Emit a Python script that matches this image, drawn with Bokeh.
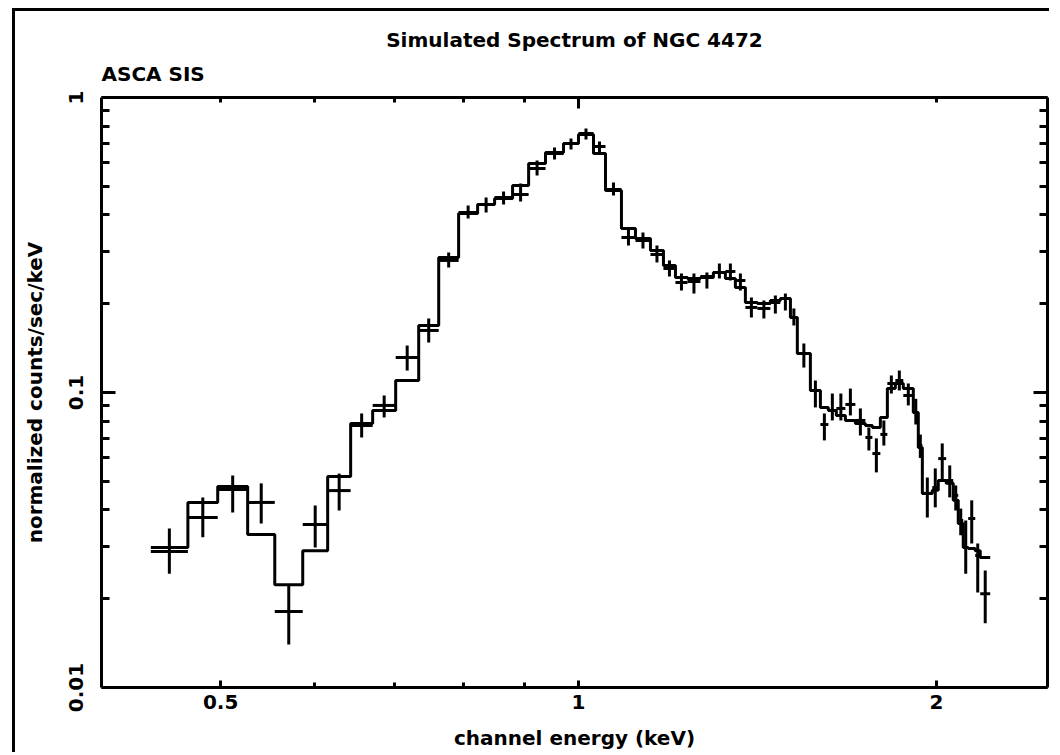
import numpy as np
from bokeh.plotting import figure
from bokeh.models import Range1d, LogAxis, FixedTicker, Title
from bokeh.embed import file_html
from bokeh.resources import INLINE

# ---------------- data ----------------
title_text = "Simulated Spectrum of NGC 4472"
subtitle_text = "ASCA SIS"
x_label = "channel energy (keV)"
y_label = "normalized counts/sec/keV"

x_ticks = [0.5, 1, 2]
x_tick_labels = ["0.5", "1", "2"]
x_minor_ticks = [0.6, 0.7, 0.8, 0.9]
x_top_major = [1]
x_top_minor = [0.5, 0.6, 0.7, 0.8, 0.9, 2]
y_ticks = [0.01, 0.1, 1]
y_tick_labels = ["0.01", "0.1", "1"]
y_minor_ticks = [0.02, 0.03, 0.04, 0.05, 0.06, 0.07, 0.08, 0.09,
                 0.2, 0.3, 0.4, 0.5, 0.6, 0.7, 0.8, 0.9]

# channel bin edges (keV)
energy_edges = [0.4368, 0.4693, 0.4972, 0.5269, 0.5553, 0.5862, 0.6152, 0.6432, 0.6712, 0.7018,
                0.7338, 0.7628, 0.7928, 0.8225, 0.8500, 0.8801, 0.9079, 0.9381, 0.9714, 1.0000,
                1.0294, 1.0537, 1.0867, 1.1166, 1.1495, 1.1788, 1.2065, 1.2349, 1.2663, 1.2985,
                1.3290, 1.3550, 1.3815, 1.4140, 1.4500, 1.4783, 1.5074, 1.5277, 1.5668, 1.5975,
                1.6223, 1.6476, 1.6767, 1.7095, 1.7429, 1.7667, 1.7942, 1.8187, 1.8470, 1.8758,
                1.9124, 1.9310, 1.9462, 1.9841, 2.0071, 2.0383, 2.0662, 2.0863, 2.1066, 2.1270,
                2.1561, 2.1771, 2.2196]

# simulated data (counts/sec/keV) with lower/upper error limits
rate = [0.0289, 0.0377, 0.0469, 0.0424, 0.0181, 0.0357, 0.0465, 0.0773, 0.0904, 0.1314,
        0.1623, 0.2803, 0.4076, 0.4339, 0.4581, 0.4690, 0.5745, 0.6459, 0.6983, 0.7551,
        0.6821, 0.4876, 0.3353, 0.3275, 0.2936, 0.2633, 0.2360, 0.2378, 0.2473, 0.2552,
        0.2572, 0.2397, 0.1942, 0.1927, 0.2019, 0.2083, 0.1796, 0.1356, 0.1016, 0.0779,
        0.0869, 0.0883, 0.0911, 0.0804, 0.0704, 0.0621, 0.0721, 0.1073, 0.1098, 0.0977,
        0.0855, 0.0661, 0.0455, 0.0476, 0.0597, 0.0503, 0.0448, 0.0368, 0.0298, 0.0374,
        0.0280, 0.0208]
rate_lo = [0.0243, 0.0323, 0.0392, 0.0360, 0.0140, 0.0298, 0.0398, 0.0704, 0.0823, 0.1187,
           0.1477, 0.2653, 0.3890, 0.4076, 0.4339, 0.4441, 0.5438, 0.6163, 0.6663, 0.7205,
           0.6459, 0.4654, 0.3150, 0.3077, 0.2759, 0.2473, 0.2217, 0.2165, 0.2251, 0.2435,
           0.2397, 0.2217, 0.1796, 0.1782, 0.1852, 0.1897, 0.1687, 0.1215, 0.0890, 0.0688,
           0.0804, 0.0804, 0.0836, 0.0715, 0.0636, 0.0536, 0.0661, 0.0992, 0.1016, 0.0904,
           0.0779, 0.0600, 0.0377, 0.0408, 0.0503, 0.0441, 0.0398, 0.0328, 0.0243, 0.0308,
           0.0210, 0.0165]
rate_hi = [0.0346, 0.0441, 0.0523, 0.0492, 0.0222, 0.0414, 0.0531, 0.0849, 0.0977, 0.1443,
           0.1782, 0.2983, 0.4305, 0.4581, 0.4801, 0.5110, 0.6115, 0.6768, 0.7261, 0.7851,
           0.7092, 0.5150, 0.3625, 0.3486, 0.3150, 0.2803, 0.2532, 0.2532, 0.2552, 0.2737,
           0.2737, 0.2532, 0.2099, 0.2050, 0.2132, 0.2165, 0.1927, 0.1466, 0.1098, 0.0849,
           0.0992, 0.0992, 0.1031, 0.0883, 0.0761, 0.0699, 0.0804, 0.1142, 0.1187, 0.1073,
           0.0952, 0.0720, 0.0515, 0.0553, 0.0672, 0.0566, 0.0484, 0.0404, 0.0368, 0.0431,
           0.0308, 0.0249]
# folded model
model = [0.0298, 0.0424, 0.0480, 0.0330, 0.0223, 0.0291, 0.0519, 0.0785, 0.0869, 0.1098,
         0.1687, 0.2868, 0.4045, 0.4339, 0.4546, 0.5031, 0.5974, 0.6510, 0.6983, 0.7491,
         0.6459, 0.4838, 0.3596, 0.3327, 0.3029, 0.2695, 0.2454, 0.2435, 0.2454, 0.2552,
         0.2435, 0.2269, 0.2019, 0.2003, 0.2050, 0.2083, 0.1796, 0.1356, 0.1016, 0.0890,
         0.0869, 0.0836, 0.0804, 0.0785, 0.0773, 0.0761, 0.0823, 0.1031, 0.1073, 0.1031,
         0.0855, 0.0651, 0.0455, 0.0466, 0.0503, 0.0492, 0.0431, 0.0360, 0.0298, 0.0296,
         0.0291, 0.0276]

# ---------------- derived ----------------
edges = np.array(energy_edges)
e_lo = edges[:-1]
e_hi = edges[1:]
e_mid = np.sqrt(e_lo * e_hi)
step_x = list(edges)
step_y = list(model) + [model[-1]]

FONT = "DejaVu Sans"
FS = "20px"
LW = 3

p = figure(width=1037, height=744,
           x_axis_type="log", y_axis_type="log",
           x_range=Range1d(0.397, 2.48), y_range=Range1d(0.01, 1.0),
           output_backend="svg", toolbar_location=None,
           min_border_left=86, min_border_top=86, min_border_right=5, min_border_bottom=68)
p.margin = (8, 0, 0, 12)
p.styles = {"border-left": "3px solid black", "border-top": "3px solid black"}
p.background_fill_color = "white"
p.border_fill_color = "white"
p.outline_line_color = None
p.xgrid.visible = False
p.ygrid.visible = False

# model histogram
p.step(step_x, step_y, mode="after", line_color="black", line_width=LW)
# data crosses
p.segment(x0=e_lo, y0=rate, x1=e_hi, y1=rate, line_color="black", line_width=LW)
p.segment(x0=e_mid, y0=rate_lo, x1=e_mid, y1=rate_hi, line_color="black", line_width=LW)


def style_axis(ax, ticks, minor, labels, major_len, minor_len, show_labels=True):
    ax.ticker = FixedTicker(ticks=ticks, minor_ticks=minor)
    ax.axis_line_width = LW
    ax.axis_line_color = "black"
    ax.major_tick_line_width = LW
    ax.minor_tick_line_width = LW
    ax.major_tick_in = major_len
    ax.major_tick_out = 0
    ax.minor_tick_in = minor_len
    ax.minor_tick_out = 0
    ax.major_label_text_font = FONT
    ax.major_label_text_font_style = "bold"
    ax.major_label_text_color = "black"
    if show_labels:
        ax.major_label_overrides = {t: l for t, l in zip(ticks, labels)}
        ax.major_label_text_font_size = FS
    else:
        ax.major_label_overrides = {t: "" for t in ticks}
        ax.major_label_text_font_size = "0px"
        ax.major_label_standoff = 0


xax = p.xaxis[0]
yax = p.yaxis[0]
style_axis(xax, x_ticks, x_minor_ticks, x_tick_labels, 7, 5)
style_axis(yax, y_ticks, y_minor_ticks, y_tick_labels, 14, 8)
xax.major_label_standoff = 7
yax.major_label_standoff = 19
yax.major_label_orientation = "vertical"
for ax, lab in ((xax, x_label), (yax, y_label)):
    ax.axis_label = lab
    ax.axis_label_text_font = FONT
    ax.axis_label_text_font_size = FS
    ax.axis_label_text_font_style = "bold"
    ax.axis_label_text_color = "black"
xax.axis_label_standoff = 14
yax.axis_label_standoff = 19

top_ax = LogAxis()
style_axis(top_ax, x_top_major, x_top_minor, [""], 11, 5, show_labels=False)
p.add_layout(top_ax, "above")
right_ax = LogAxis()
style_axis(right_ax, y_ticks, y_minor_ticks, y_tick_labels, 14, 8, show_labels=False)
p.add_layout(right_ax, "right")

sub = Title(text=subtitle_text, align="left", text_font=FONT, text_font_size=FS,
            text_font_style="bold", text_color="black", standoff=23)
p.add_layout(sub, "above")
main = Title(text=title_text, align="center", text_font=FONT, text_font_size=FS,
             text_font_style="bold", text_color="black", standoff=-7)
p.add_layout(main, "above")

open("out.html", "w").write(file_html(p, INLINE))
